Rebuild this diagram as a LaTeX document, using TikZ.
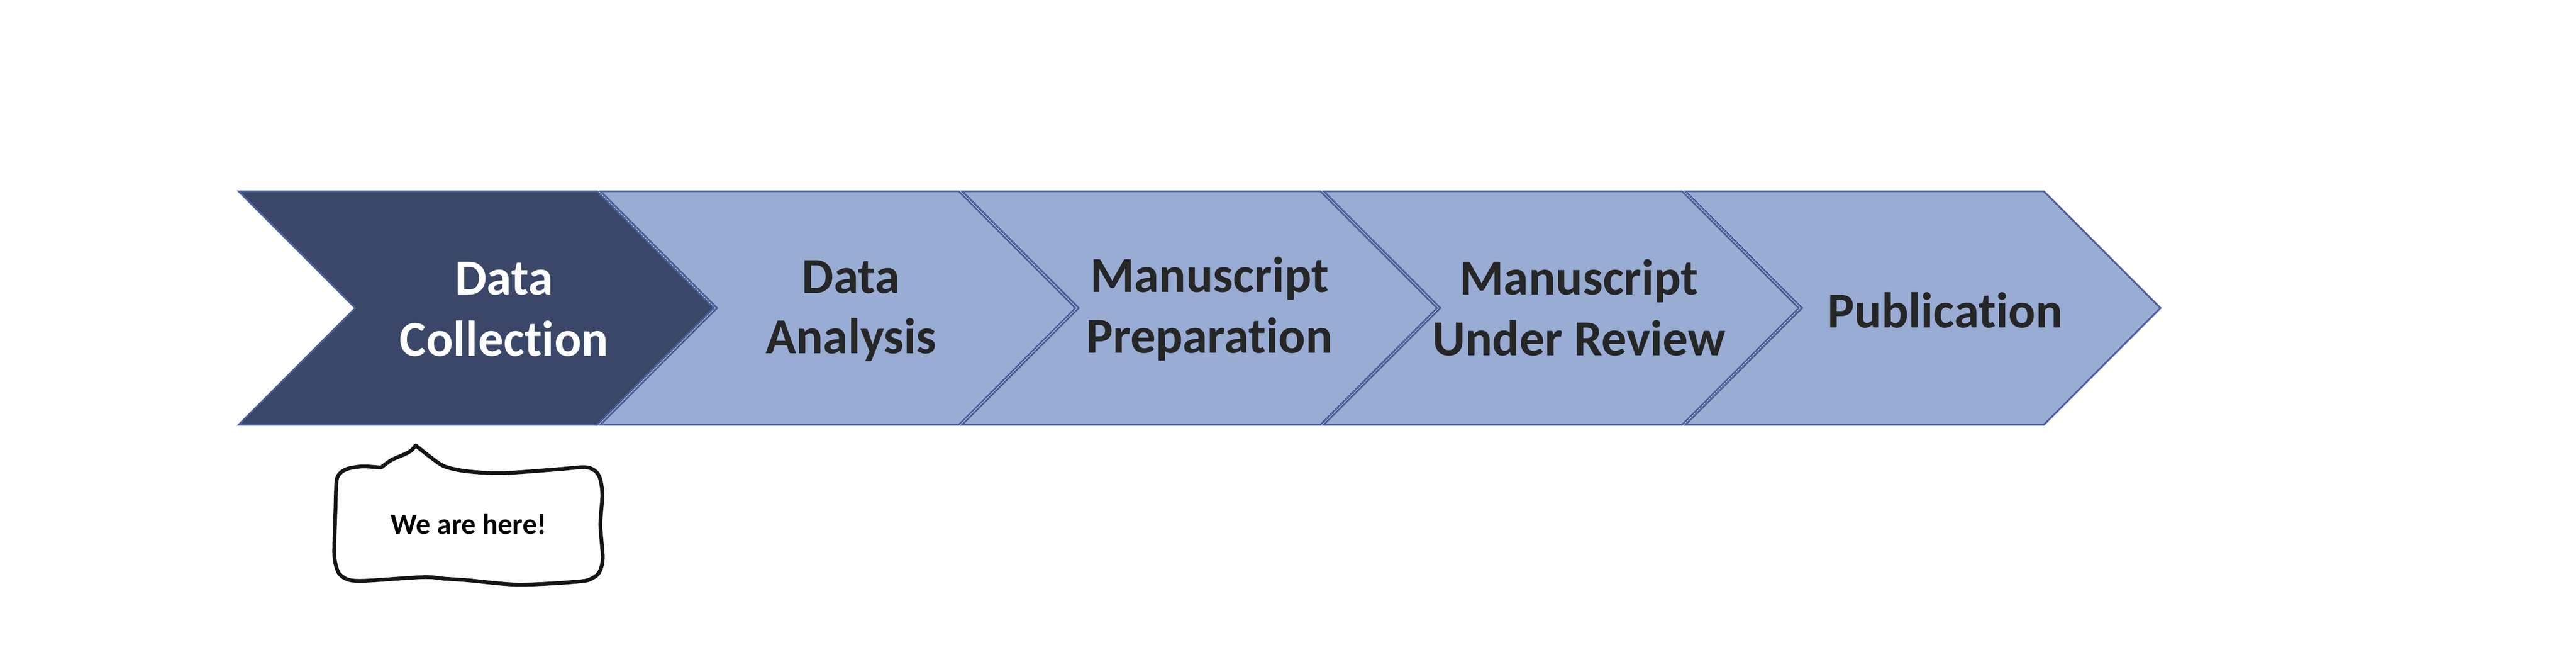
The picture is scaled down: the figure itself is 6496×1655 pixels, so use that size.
\documentclass[tikz,border=0pt]{standalone}
\usepackage{fontspec}
\setmainfont{Carlito}[Ligatures=NoCommon]
\definecolor{darkfill}{HTML}{3A4768}
\definecolor{lightfill}{HTML}{98ACD4}
\definecolor{edgeblue}{HTML}{4A619A}
\definecolor{textdark}{HTML}{262626}
\definecolor{calloutline}{HTML}{151515}
\tikzset{
  chevron/.style={draw=edgeblue, line width=0.45pt, line join=miter},
  darkchev/.style={chevron, fill=darkfill},
  lightchev/.style={chevron, fill=lightfill},
  chevtext/.style={inner sep=0pt, anchor=base, font=\fontsize{12.7pt}{15.4pt}\selectfont\bfseries},
  darklabel/.style={chevtext, text=textdark},
  whitelabel/.style={chevtext, text=white},
  callout/.style={draw=calloutline, line width=0.95pt, fill=white, line join=round, line cap=round},
  callouttext/.style={inner sep=0pt, anchor=base, font=\fontsize{7.3pt}{8.8pt}\selectfont\bfseries, text=black}
}
\newcommand{\chevronpath}[2]{%
  \path[#2] (#1,482) -- ++(904,0) -- ++(294,294) -- ++(-294,294) -- ++(-904,0) -- ++(294,-294) -- cycle;}
\begin{document}
\begin{tikzpicture}[x=0.1pt, y=-0.1pt]
\useasboundingbox (0,0) rectangle (6496,1655);
% chevrons
\chevronpath{602}{darkchev}
\chevronpath{1514}{lightchev}
\chevronpath{2426}{lightchev}
\chevronpath{3338}{lightchev}
\chevronpath{4250}{lightchev}
% labels
\node[whitelabel] (c1a) at (1271,742) {Data};
\node[whitelabel] (c1b) at (1271,897) {Collection};
\node[darklabel] (c2a) at (2146,738) {Data};
\node[darklabel] (c2b) at (2146,891) {Analysis};
\node[darklabel] (c3a) at (3050,736) {Manuscript};
\node[darklabel] (c3b) at (3050,889) {Preparation};
\node[darklabel] (c4a) at (3982,742) {Manuscript};
\node[darklabel] (c4b) at (3982,896) {Under Review};
\node[darklabel] (c5a) at (4905,825) {Publication};
% callout
\draw[callout] plot[smooth, tension=0.5] coordinates {(1048,1122) (1086,1152) (1121,1175) (1175,1187) (1264,1192) (1398,1183) (1474,1177) (1500,1186) (1513,1205) (1519,1247) (1514,1322) (1520,1405) (1512,1440) (1495,1456) (1461,1465) (1309,1473) (1180,1462) (1121,1458) (1068,1454) (925,1463) (880,1461) (856,1446) (846,1420) (843,1387) (846,1282) (849,1210) (860,1190) (880,1180) (916,1175) (961,1178)} -- plot[smooth, tension=0.5] coordinates {(961,1178) (987,1159) (1019,1145) (1037,1135) (1048,1122)} -- cycle;
\node[callouttext] (here) at (1182,1345) {We are here!};
\end{tikzpicture}
\end{document}
